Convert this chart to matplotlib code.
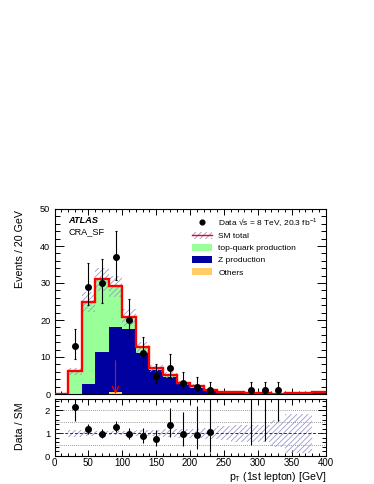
import numpy as np
import matplotlib
matplotlib.use("Agg")
import matplotlib.pyplot as plt
from matplotlib.patches import Patch
from matplotlib.lines import Line2D
from matplotlib.ticker import MultipleLocator

plt.rcParams['font.family'] = ['Liberation Sans', 'DejaVu Sans']
plt.rcParams['mathtext.fontset'] = 'custom'
plt.rcParams['mathtext.rm'] = 'Liberation Sans'
plt.rcParams['mathtext.it'] = 'Liberation Sans:italic'
plt.rcParams['mathtext.bf'] = 'Liberation Sans:bold'
plt.rcParams['mathtext.default'] = 'regular'
plt.rcParams['hatch.linewidth'] = 0.6

# ---------------- data ----------------
bin_edges = [0, 20, 40, 60, 80, 100, 120, 140, 160, 180, 200,
             220, 240, 260, 280, 300, 320, 340, 360, 380, 400]
others = [0, 0, 0, 0, 0.6, 0, 0, 0, 0, 0,
          0, 0, 0, 0, 0, 0, 0, 0, 0, 0]
z_prod = [0, 0, 2.7, 11.3, 17.6, 17.5, 11.0, 6.5, 4.5, 2.6,
          1.6, 0.8, 0.45, 0.35, 0.3, 0.2, 0.08, 0.25, 0.25, 0.5]
top_prod = [0, 6.1, 22.1, 19.7, 10.9, 3.2, 1.6, 0.4, 0.6, 0.45,
            0.55, 0.17, 0.15, 0.1, 0.06, 0.06, 0.03, 0.05, 0.05, 0.1]
sm_rel_unc = [0, 0.16, 0.11, 0.1, 0.1, 0.11, 0.12, 0.14, 0.17, 0.19,
              0.2, 0.25, 0.3, 0.37, 0.37, 0.37, 0.6, 0.85, 0.85, 0]
data_counts = [0, 13, 29, 30, 37, 20, 11, 5, 7, 3,
               2, 1, 0, 0, 1, 1, 1, 0, 0, 0]
data_err_lo = [0, 3.6, 4.9, 5.5, 6.2, 4.7, 3.6, 2.1, 2.8, 1.6,
               1.3, 0.83, 0, 0, 0.83, 0.83, 0.83, 0, 0, 0]
data_err_hi = [0, 4.7, 6.3, 6.6, 7.1, 5.6, 4.3, 3.0, 3.8, 2.9,
               2.7, 2.3, 0, 0, 2.3, 2.3, 2.3, 0, 0, 0]
cut_arrow_x = 90
cut_arrow_top = 9

data_label = "Data \u221as = 8 TeV, 20.3 fb$^{-1}$"
labels = [data_label, "SM total", "top-quark production", "Z production", "Others"]

top_color = '#99ff99'
z_color = '#0000a0'
others_color = '#ffcc66'
hatch_color = '#9a9acb'

# ---------------- derived ----------------
edges = np.array(bin_edges, dtype=float)
centers = 0.5 * (edges[:-1] + edges[1:])
oth = np.array(others)
zp = np.array(z_prod)
tp = np.array(top_prod)
sm = oth + zp + tp
rel = np.array(sm_rel_unc)
cnt = np.array(data_counts, dtype=float)
elo = np.array(data_err_lo)
ehi = np.array(data_err_hi)

fig = plt.figure(figsize=(3.74, 4.84), dpi=100)
W, H = 374.0, 484.0
x0, x1 = 54.5, 325.7
ax = fig.add_axes([x0 / W, 1 - 394 / H, (x1 - x0) / W, (394 - 209) / H])
axr = fig.add_axes([x0 / W, 1 - 456 / H, (x1 - x0) / W, (456 - 399) / H], sharex=ax)

# stacks
ax.stairs(oth, edges, baseline=0, fill=True, color=others_color, zorder=2)
ax.stairs(oth + zp, edges, baseline=oth, fill=True, color=z_color, zorder=2)
ax.stairs(sm, edges, baseline=oth + zp, fill=True, color=top_color, zorder=2)
# uncertainty band
ax.stairs(sm * (1 + rel), edges, baseline=sm * (1 - rel), fill=True,
          facecolor='none', edgecolor=hatch_color, hatch='//////', lw=0, zorder=3)
ax.stairs(sm, edges, baseline=None, color='red', lw=1.7, zorder=4)

m = cnt > 0
ax.errorbar(centers[m], cnt[m], yerr=[elo[m], ehi[m]], fmt='o', color='black',
            markersize=4, elinewidth=0.8, capsize=0.8, capthick=0.8, zorder=6)

ax.annotate('', xy=(cut_arrow_x, 0), xytext=(cut_arrow_x, cut_arrow_top),
            arrowprops=dict(arrowstyle='->,head_length=0.45,head_width=0.22',
                            color='red', lw=0.8, shrinkA=0, shrinkB=0), zorder=7)

ax.set_xlim(edges[0], edges[-1])
ax.set_ylim(0, 50)
ax.yaxis.set_major_locator(MultipleLocator(10))
ax.yaxis.set_minor_locator(MultipleLocator(2))
ax.xaxis.set_major_locator(MultipleLocator(50))
ax.xaxis.set_minor_locator(MultipleLocator(10))
ax.tick_params(axis='x', labelbottom=False)

# ratio panel
safe_sm = np.where(sm > 0, sm, 1)
ratio = np.where(sm > 0, cnt / safe_sm, 0)
rlo = np.where(sm > 0, elo / safe_sm, 0)
rhi = np.where(sm > 0, ehi / safe_sm, 0)
axr.stairs(1 + rel, edges, baseline=1 - rel, fill=True, facecolor='none',
           edgecolor=hatch_color, hatch='//////', lw=0, zorder=2)
for yv in [0.5, 1.5, 2.0]:
    axr.axhline(yv, color='#777777', lw=0.6, ls=(0, (1, 1.5)), zorder=1)
axr.axhline(1.0, color='#333333', lw=0.7, ls=(0, (3, 2)), zorder=3)
axr.errorbar(centers[m], ratio[m], yerr=[rlo[m], rhi[m]], fmt='o', color='black',
             markersize=4, elinewidth=0.8, capsize=0, zorder=6)
axr.set_ylim(0, 2.5)
axr.yaxis.set_major_locator(MultipleLocator(1))
axr.yaxis.set_minor_locator(MultipleLocator(0.2))

for a in (ax, axr):
    a.tick_params(which='both', direction='in', top=True, right=True,
                  pad=3, width=0.7)
    for s in a.spines.values():
        s.set_linewidth(0.8)
ax.tick_params(axis='y', which='major', length=6.5, labelsize=6.6)
ax.tick_params(axis='y', which='minor', length=3.3)
ax.tick_params(axis='x', which='major', length=4)
ax.tick_params(axis='x', which='minor', length=2)
axr.tick_params(axis='y', which='major', length=6, labelsize=6.8)
axr.tick_params(axis='y', which='minor', length=3)
axr.tick_params(axis='x', which='major', length=4, labelsize=7.0, pad=1.8)
axr.tick_params(axis='x', which='minor', length=2)

# texts
ax.text(0.05, 0.94, 'ATLAS', transform=ax.transAxes, fontsize=6.6,
        fontweight='bold', fontstyle='italic', va='center', ha='left')
ax.text(0.05, 0.875, 'CRA_SF', transform=ax.transAxes, fontsize=6.6,
        va='center', ha='left')
fig.text(20 / W, 1 - 210 / H, 'Events / 20 GeV', rotation=90, ha='center',
         va='top', fontsize=7.7)
fig.text(20 / W, 1 - 402 / H, 'Data / SM', rotation=90, ha='center',
         va='top', fontsize=7.7)
fig.text(x1 / W, 1 - 470.5 / H, 'p$_{T}$ (1st lepton) [GeV]', ha='right',
         va='top', fontsize=7.6)

handles = [
    Line2D([], [], marker='o', color='black', ls='none', markersize=3.4),
    (Patch(facecolor='none', edgecolor=hatch_color, hatch='//////', lw=0),
     Line2D([], [], color='red', lw=1.0)),
    Patch(facecolor=top_color, edgecolor='none'),
    Patch(facecolor=z_color, edgecolor='none'),
    Patch(facecolor=others_color, edgecolor='none'),
]
ax.legend(handles, labels, loc='upper left', bbox_to_anchor=(0.5, 0.972),
          frameon=False, fontsize=6.0, handlelength=2.4, handleheight=0.96,
          handletextpad=0.8, labelspacing=0.45, borderpad=0.2, borderaxespad=0)

fig.savefig('out.png', dpi=100)
